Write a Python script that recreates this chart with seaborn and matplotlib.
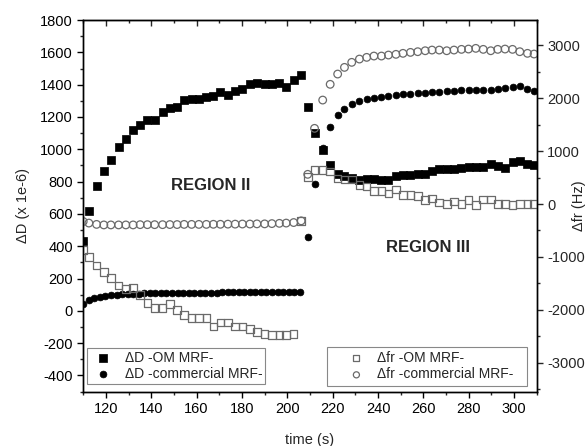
import matplotlib
matplotlib.use("Agg")
import matplotlib.pyplot as plt
from matplotlib.ticker import MultipleLocator
import seaborn as sns
import numpy as np

# tiempos de muestreo (s), región II y región III
t_reg2 = [112.5, 115.9, 119.1, 122.2, 125.6, 128.8, 132.0, 135.1, 138.3, 141.5,
          145.0, 148.2, 151.4, 154.5, 157.8, 161.0, 164.3, 167.4, 170.5, 173.8,
          177.0, 180.2, 183.5, 186.6, 190.0, 193.2, 196.5, 199.5, 202.8, 206.1]
t_reg3 = [209.0, 212.0, 215.6, 218.9, 222.2, 225.2, 228.4, 231.8, 235.0, 238.2,
          241.5, 244.6, 247.9, 251.0, 254.3, 257.5, 260.8, 263.8, 267.0, 270.3,
          273.5, 276.8, 279.9, 283.1, 286.4, 289.7, 292.8, 296.0, 299.3, 302.5,
          305.9, 308.8]
t_com_reg2 = [110.0, 112.4, 114.9, 117.3, 119.8, 122.2, 124.7, 127.1, 129.6, 132.0,
              134.5, 136.9, 139.4, 141.8, 144.3, 146.7, 149.2, 151.6, 154.1, 156.5,
              159.0, 161.4, 163.9, 166.3, 168.8, 171.2, 173.7, 176.1, 178.6, 181.0,
              183.5, 185.9, 188.4, 190.8, 193.3, 195.7, 198.2, 200.6, 203.1, 205.5]

# ΔD (x 1e-6) -OM MRF-
dD_om_reg2 = [430, 619, 775, 866, 934, 1013, 1062, 1121, 1150, 1183, 1183, 1233, 1253,
              1263, 1303, 1310, 1310, 1323, 1332, 1352, 1338, 1362, 1372, 1402, 1412,
              1402, 1402, 1412, 1388, 1430, 1463]
dD_om_reg3 = [1261, 1100, 996, 905, 847, 837, 822, 812, 815, 815, 810, 810, 837, 843,
              843, 847, 847, 868, 878, 878, 878, 885, 893, 893, 888, 909, 899, 885,
              919, 925, 909, 905]

# ΔD (x 1e-6) -commercial MRF-
dD_com_reg2 = [40, 66, 78, 87, 93, 97, 101, 103, 105, 106, 107, 108, 108, 109, 110,
               110, 111, 111, 111, 112, 112, 112, 113, 113, 113, 114, 114, 114, 115,
               115, 115, 116, 116, 116, 116, 117, 117, 116, 116, 115]
dD_com_reg3 = [458, 785, 1009, 1137, 1210, 1251, 1282, 1299, 1310, 1317, 1323, 1330,
               1336, 1340, 1344, 1348, 1350, 1356, 1356, 1358, 1362, 1366, 1368, 1368,
               1368, 1368, 1372, 1381, 1385, 1390, 1375, 1359]

# Δfr (Hz) -OM MRF-
fr_om_reg2 = [-870, -1006, -1164, -1289, -1402, -1541, -1604, -1591, -1720, -1874,
              -1968, -1968, -1887, -2000, -2095, -2157, -2157, -2157, -2315, -2240,
              -2240, -2315, -2315, -2365, -2421, -2459, -2472, -2472, -2472, -2453,
              -321]
fr_om_reg3 = [510, 642, 642, 610, 484, 465, 465, 358, 327, 245, 245, 201, 277, 170,
              170, 151, 75, 107, 25, 0, 44, 0, 75, -19, 88, 88, 0, 0, -19, 0, 0, 0]

# Δfr (Hz) -commercial MRF-
fr_com_reg2 = [-330, -360, -385, -395, -395, -395, -395, -395, -390, -390, -390,
               -390, -388, -388, -385, -385, -385, -385, -383, -383, -380, -380,
               -378, -378, -375, -375, -370, -365, -360, -350, -318]
fr_com_reg3 = [560, 1428, 1962, 2259, 2453, 2579, 2674, 2736, 2768, 2793, 2793, 2812,
               2825, 2844, 2862, 2875, 2893, 2906, 2906, 2893, 2906, 2919, 2925, 2938,
               2919, 2893, 2919, 2925, 2919, 2875, 2844, 2831]

sns.set_style("ticks")
plt.rcParams['font.family'] = ['Liberation Sans', 'DejaVu Sans']
plt.rcParams['font.size'] = 10.5
plt.rcParams['axes.unicode_minus'] = False

fig = plt.figure(figsize=(5.86, 4.46), dpi=100)
ax = fig.add_axes([0.142, 0.122, 0.774, 0.833])
ax2 = ax.twinx()

t_om = [110.0] + t_reg2 + t_reg3
t_com = t_com_reg2 + t_reg3

# ΔD en el eje izquierdo
sns.scatterplot(x=t_om, y=dD_om_reg2 + dD_om_reg3, ax=ax, marker='s', s=28,
                color='black', edgecolor='black', linewidth=0.5,
                label='\u0394D -OM MRF-', legend=False, zorder=3)
sns.scatterplot(x=t_com, y=dD_com_reg2 + dD_com_reg3, ax=ax, marker='o', s=24,
                color='black', edgecolor='black', linewidth=0.5,
                label='\u0394D -commercial MRF-', legend=False, zorder=3)

# Δfr en el eje derecho (marcadores huecos)
sns.scatterplot(x=t_om, y=fr_om_reg2 + fr_om_reg3, ax=ax2, marker='s', s=30,
                facecolor='none', edgecolor='#6a6a6a', linewidth=0.9,
                label='\u0394fr -OM MRF-', legend=False)
sns.scatterplot(x=[110.0] + t_reg2 + t_reg3, y=fr_com_reg2 + fr_com_reg3, ax=ax2,
                marker='o', s=30, facecolor='none', edgecolor='#6a6a6a',
                linewidth=0.9, label='\u0394fr -commercial MRF-', legend=False)

ax.set_xlim(110, 310)
ax.set_ylim(-500, 1800)
ax2.set_ylim(-3541, 3472)

ax.xaxis.set_minor_locator(MultipleLocator(10))
ax.yaxis.set_minor_locator(MultipleLocator(100))
ax2.yaxis.set_minor_locator(MultipleLocator(500))
ax.set_xticks([120, 140, 160, 180, 200, 220, 240, 260, 280, 300])
ax.set_yticks(list(range(-400, 1801, 200)))
ax2.set_yticks([-3000, -2000, -1000, 0, 1000, 2000, 3000])

ax.tick_params(axis='both', which='major', direction='out', length=4, width=1,
               labelsize=10.5, colors='black', top=False)
ax.tick_params(axis='both', which='minor', direction='out', length=2.5, width=1,
               top=False)
ax2.tick_params(axis='y', which='major', direction='out', length=4, width=1,
                labelsize=10.5)
ax2.tick_params(axis='y', which='minor', direction='out', length=2.5, width=1)

# las marcas del eje superior apuntan hacia dentro
sec = ax.secondary_xaxis('top')
sec.xaxis.set_major_locator(MultipleLocator(20))
sec.xaxis.set_minor_locator(MultipleLocator(10))
sec.tick_params(which='major', direction='in', length=4, width=1, labeltop=False)
sec.tick_params(which='minor', direction='in', length=2.5, width=1)

for a in (ax, ax2):
    for sp in a.spines.values():
        sp.set_visible(True)
        sp.set_linewidth(1)
        sp.set_color('black')

ax.set_xlabel('time (s)', fontsize=10.5, labelpad=12)
ax.set_ylabel('\u0394D (x 1e-6)', fontsize=10.5)
ax.yaxis.set_label_coords(-0.118, 0.5)
ax2.set_ylabel('\u0394fr (Hz)', fontsize=10.5)
ax2.yaxis.set_label_coords(1.078, 0.5)

ax.text(166, 775, 'REGION II', fontsize=12, fontweight='bold', ha='center', va='center')
ax.text(262, 395, 'REGION III', fontsize=12, fontweight='bold', ha='center', va='center')

h1, l1 = ax.get_legend_handles_labels()
leg1 = ax.legend(h1, l1, loc='lower left', bbox_to_anchor=(0.009, 0.021),
                 fontsize=10, frameon=True, fancybox=False, edgecolor='#888888',
                 framealpha=1, borderpad=0.2, labelspacing=0.15, handlelength=1.8,
                 handletextpad=0.7, borderaxespad=0)
leg1.get_frame().set_linewidth(0.8)

h2, l2 = ax2.get_legend_handles_labels()
leg2 = ax2.legend(h2, l2, loc='lower left', bbox_to_anchor=(0.538, 0.016, 0.441, 0.11),
                  mode='expand', fontsize=10, frameon=True, fancybox=False,
                  edgecolor='#888888', framealpha=1, borderpad=0.3, labelspacing=0.2,
                  handlelength=3.6, handletextpad=-0.3, borderaxespad=0,
                  markerscale=0.8)
leg2.get_frame().set_linewidth(0.8)

fig.savefig('out.png', dpi=100)
